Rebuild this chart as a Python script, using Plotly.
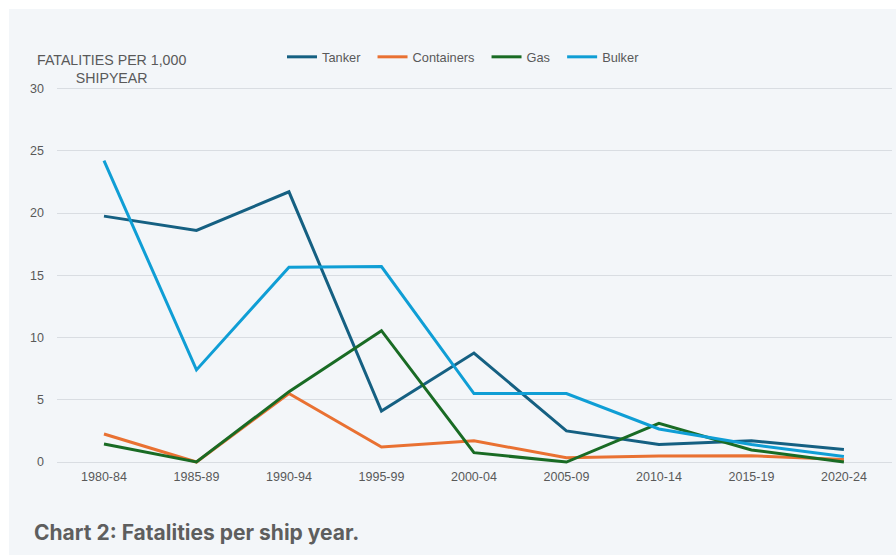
import plotly.graph_objects as go

periods = ["1980-84", "1985-89", "1990-94", "1995-99", "2000-04", "2005-09", "2010-14", "2015-19", "2020-24"]
tanker = [19.75, 18.6, 21.7, 4.1, 8.75, 2.5, 1.4, 1.7, 1.0]
containers = [2.25, 0.0, 5.5, 1.2, 1.7, 0.35, 0.48, 0.5, 0.2]
gas = [1.45, 0.0, 5.65, 10.55, 0.75, 0.0, 3.1, 0.97, 0.0]
bulker = [24.2, 7.4, 15.65, 15.7, 5.5, 5.5, 2.65, 1.4, 0.45]

series = [
    ("Tanker", tanker, "#156082"),
    ("Containers", containers, "#E97132"),
    ("Gas", gas, "#196B24"),
    ("Bulker", bulker, "#0F9ED5"),
]

W, H = 896, 555
ml, mr, mt, mb = 57, 4, 86, 88
pw = W - ml - mr
ph = H - mt - mb

fig = go.Figure()
for name, vals, col in series:
    fig.add_trace(go.Scatter(x=periods, y=vals, name=name + "\u00a0\u00a0", mode="lines",
                             line=dict(color=col, width=3)))

def px_x(p):
    return (p - ml) / pw

def px_y(p):
    return (H - mb - p) / ph

fig.update_layout(
    width=W, height=H,
    margin=dict(l=ml, r=mr, t=mt, b=mb),
    paper_bgcolor="white",
    plot_bgcolor="rgba(0,0,0,0)",
    font=dict(family="Liberation Sans, Arial, sans-serif", size=12.5, color="#595959"),
    xaxis=dict(type="category", range=[-0.508, 8.52], showgrid=False, zeroline=False,
               showline=False, ticks="", tickfont=dict(size=12.5, color="#595959")),
    yaxis=dict(range=[-0.4, 30.2], tickvals=[0, 5, 10, 15, 20, 25, 30], showgrid=True,
               gridcolor="#d9dde2", gridwidth=1, zeroline=False, showline=False,
               ticks="", ticklabelstandoff=12, tickfont=dict(size=12.5, color="#595959")),
    legend=dict(orientation="h", x=px_x(282), y=px_y(57), xanchor="left", yanchor="middle",
                bgcolor="rgba(0,0,0,0)", font=dict(size=12.8, color="#595959")),
    shapes=[dict(type="rect", xref="paper", yref="paper", x0=px_x(9), x1=px_x(W + 10),
                 y0=px_y(H + 10), y1=px_y(9), fillcolor="#f3f6f9", line=dict(width=0),
                 layer="below")],
    annotations=[
        dict(text="FATALITIES PER 1,000<br>SHIPYEAR", xref="paper", yref="paper",
             x=px_x(111), y=px_y(69), xanchor="center", yanchor="middle", showarrow=False,
             align="center", font=dict(size=14.2, color="#595959")),
        dict(text="<b>Chart 2: Fatalities per ship year.</b>", xref="paper", yref="paper",
             x=px_x(32), y=px_y(532), xanchor="left", yanchor="middle", showarrow=False,
             font=dict(family="Inter, sans-serif", size=21, color="#5e5e5e")),
    ],
)

fig.write_html("out.html")
